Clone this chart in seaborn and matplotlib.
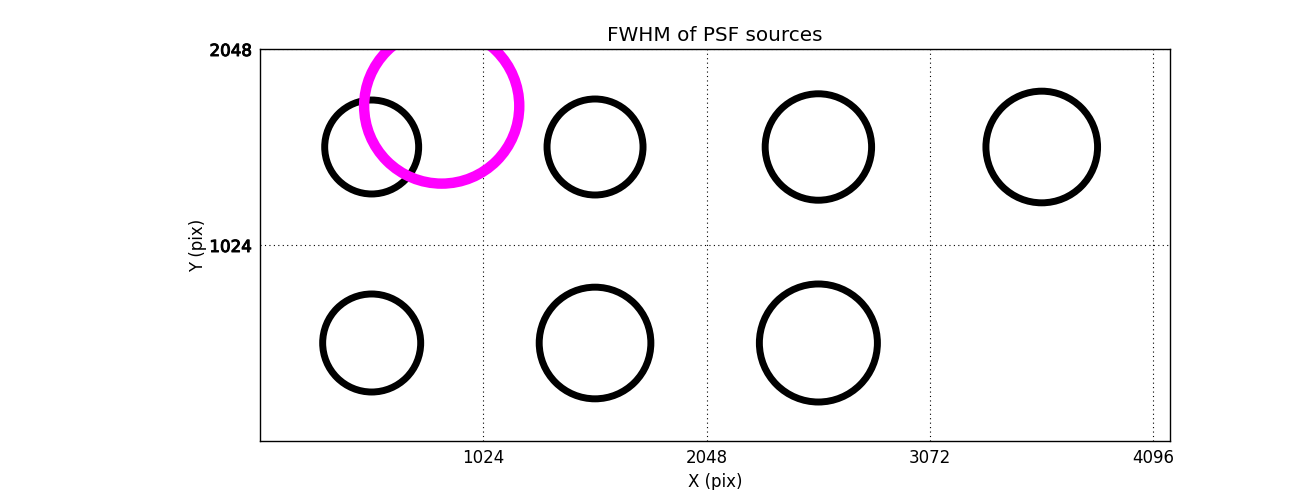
import matplotlib
matplotlib.use("Agg")
import matplotlib.pyplot as plt
import matplotlib.patheffects as pe
import seaborn as sns
import numpy as np
import pandas as pd

# Data
src_x = [512, 1536, 2560, 3584, 512, 1536, 2560]
src_y = [1536, 1536, 1536, 1536, 512, 512, 512]
fwhm = [3.24, 3.31, 3.67, 3.85, 3.38, 3.85, 4.07]   # marker diameter ~ FWHM
ref_x = [833]
ref_y = [1750]
ref_fwhm = [5.35]
x_ticks = [1024, 2048, 3072, 4096]
y_ticks = [1024, 2048]

SCALE = 20 * 0.72 * 1.45  # FWHM -> marker size

sns.set_style("white")
plt.rcParams['font.family'] = ['DejaVu Sans']
for k in ["text.color", "axes.labelcolor", "xtick.color", "ytick.color"]:
    plt.rcParams[k] = "black"

fig = plt.figure(figsize=(13, 4.9), dpi=100)
ax = fig.add_axes([0.2, 0.1, 0.7, 0.8])

df = pd.DataFrame({"x": src_x, "y": src_y, "fwhm": fwhm})
sizes = (np.array(fwhm) * SCALE) ** 2
sns.scatterplot(data=df, x="x", y="y", s=sizes, marker="o",
                facecolors="none", edgecolor="black", linewidth=5, ax=ax, legend=False)

dref = pd.DataFrame({"x": ref_x, "y": ref_y})
sref = (np.array(ref_fwhm) * SCALE) ** 2
sns.scatterplot(data=dref, x="x", y="y", s=sref, marker="o",
                facecolors="none", edgecolor="#ff00ff", linewidth=7.5, ax=ax, legend=False)

ax.set_xlim(0, 4172)
ax.set_ylim(0, 2048)
ax.set_xticks(x_ticks)
ax.set_yticks(y_ticks)
ax.set_xticklabels([str(t) for t in x_ticks], fontsize=12, color="black")
ax.set_yticklabels([str(t) for t in y_ticks], fontsize=12, color="black")
for lab in ax.get_yticklabels():
    lab.set_path_effects([pe.withStroke(linewidth=0.7, foreground="black")])
ax.tick_params(length=0, pad=6)
ax.grid(True, color="black", linestyle=(0, (1, 3)), linewidth=0.8)
ax.set_axisbelow(True)
for sp in ax.spines.values():
    sp.set_color("black")
    sp.set_linewidth(1.0)

ax.set_xlabel("X (pix)", fontsize=12, color="black")
ax.set_ylabel("Y (pix)", fontsize=12, color="black", labelpad=2)
ax.set_title("FWHM of PSF sources", fontsize=14.4, color="black")

fig.savefig("out.png", dpi=100)
